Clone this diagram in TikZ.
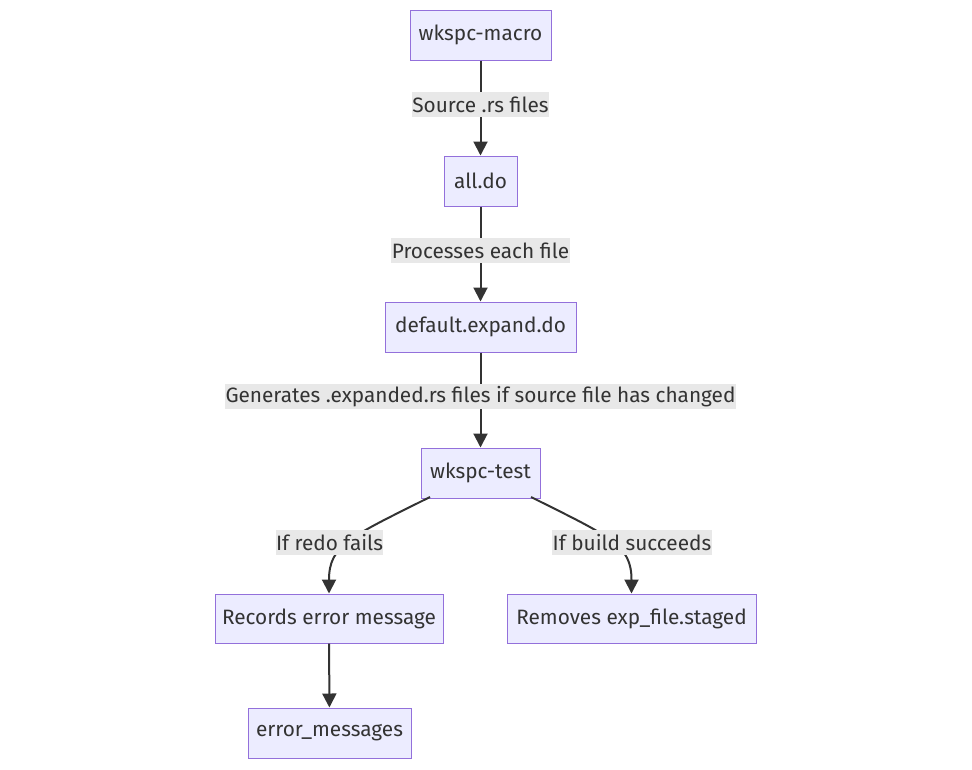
\documentclass[tikz,border=0pt]{standalone}
\usepackage{fontspec}
\setmainfont{Fira Sans}
\usetikzlibrary{arrows.meta}
\definecolor{nodefill}{HTML}{ECECFF}
\definecolor{nodestroke}{HTML}{9370DB}
\definecolor{linecol}{HTML}{333333}
\definecolor{lblbg}{HTML}{E8E8E8}
\tikzset{
  box/.style={draw=nodestroke, fill=nodefill, line width=1pt, minimum height=50pt, inner xsep=0pt, text=linecol, font=\fontsize{20.8}{24}\selectfont},
  lbl/.style={fill=lblbg, inner xsep=0.5pt, inner ysep=0pt, minimum height=25pt, text=linecol, font=\fontsize{20.8}{24}\selectfont},
  conn/.style={draw=linecol, line width=2pt, -{Triangle[length=14pt,width=14pt]}},
}
\begin{document}
\begin{tikzpicture}[x=1pt,y=-1pt]
\useasboundingbox (0,0) rectangle (972,769);
\node[box, minimum width=141pt] (macro) at (480.5,35) {wkspc-macro};
\node[box, minimum width=73pt] (alldo) at (480.5,181) {all.do};
\node[box, minimum width=191pt] (expand) at (480.5,327) {default.expand.do};
\node[box, minimum width=119pt] (test) at (480.5,473) {wkspc-test};
\node[box, minimum width=228pt, minimum height=49pt] (records) at (329,618.5) {Records error message};
\node[box, minimum width=249pt, minimum height=49pt] (removes) at (631.5,618.5) {Removes exp\_file.staged};
\node[box, minimum width=163pt] (errmsg) at (329.5,733) {error\_messages};

\coordinate (tl) at (430,497);
\coordinate (tr) at (531,497);

\draw[conn] (macro) -- (alldo);
\draw[conn] (alldo) -- (expand);
\draw[conn] (expand) -- (test);
\draw[conn] (tl) .. controls (350,537) and (329,545) .. (records.north);
\draw[conn] (tr) .. controls (611,537) and (631.5,545) .. (removes.north);
\draw[conn] (records) -- (errmsg);

\node[lbl] (l1) at (480.5,104.5) {Source .rs files};
\node[lbl] (l2) at (480.5,250.5) {Processes each file};
\node[lbl] (l3) at (480.5,396.5) {Generates .expanded.rs files if source file has changed};
\node[lbl] (l4) at (329.5,542.5) {If redo fails};
\node[lbl] (l5) at (632,542.5) {If build succeeds};
\end{tikzpicture}
\end{document}
